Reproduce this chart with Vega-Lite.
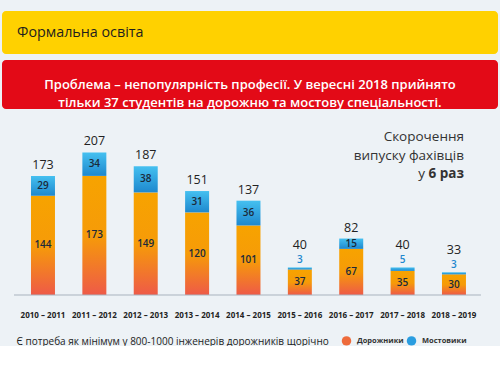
{
  "$schema": "https://vega.github.io/schema/vega-lite/v6.json",
  "background": "#EDF2F6",
  "padding": {"left": 2, "top": 11, "right": 2, "bottom": 0},
  "spacing": 6,
  "config": {
    "view": {"stroke": null},
    "font": "Open Sans",
    "text": {"font": "Open Sans"}
  },
  "datasets": {
    "bars": [
      {"year": "2010 – 2011", "d": 144, "m": 29, "t": 173},
      {"year": "2011 – 2012", "d": 173, "m": 34, "t": 207},
      {"year": "2012 – 2013", "d": 149, "m": 38, "t": 187},
      {"year": "2013 – 2014", "d": 120, "m": 31, "t": 151},
      {"year": "2014 – 2015", "d": 101, "m": 36, "t": 137},
      {"year": "2015 – 2016", "d": 37, "m": 3, "t": 40},
      {"year": "2016 – 2017", "d": 67, "m": 15, "t": 82},
      {"year": "2017 – 2018", "d": 35, "m": 5, "t": 40},
      {"year": "2018 – 2019", "d": 30, "m": 3, "t": 33}
    ],
    "notes": [
      {"year": "2018 – 2019", "v": 229, "label": "Скорочення"},
      {"year": "2018 – 2019", "v": 202, "label": "випуску фахівців"}
    ],
    "notes2": [
      {"year": "2018 – 2019", "v": 176, "a": "у", "b": "6 раз"}
    ]
  },
  "vconcat": [
    {
      "width": 496,
      "height": 43,
      "view": {"fill": "#FFD100", "stroke": null, "cornerRadius": 4},
      "data": {"values": [{"label": "Формальна освіта"}]},
      "mark": {"type": "text", "align": "left", "baseline": "middle", "dx": -233, "fontSize": 14.3, "color": "#1E1E1E"},
      "encoding": {"text": {"field": "label"}}
    },
    {
      "width": 496,
      "height": 49,
      "view": {"fill": "#E30A17", "stroke": null, "cornerRadius": 4},
      "data": {"values": [{"label": ["Проблема – непопулярність професії. У вересні 2018 прийнято", "тільки 37 студентів на дорожню та мостову спеціальності."]}]},
      "mark": {"type": "text", "align": "center", "baseline": "middle", "fontSize": 13, "fontWeight": 600, "lineHeight": 18, "color": "#FFFFFF"},
      "encoding": {"text": {"field": "label"}}
    },
    {
      "width": 496,
      "height": 179,
      "data": {"name": "bars"},
      "encoding": {
        "x": {
          "field": "year", "type": "ordinal", "sort": null,
          "scale": {"paddingInner": 0.533, "paddingOuter": 0.594, "align": 0.475},
          "axis": {
            "domain": false, "ticks": false, "labelAngle": 0, "labelPadding": 16,
            "labelFontSize": 8, "labelFontWeight": "bold", "labelColor": "#222222",
            "title": "Є потреба як мінімум у 800-1000 інженерів дорожників щорічно",
            "titleFontSize": 10, "titleFontWeight": "normal", "titleColor": "#222222",
            "titleAnchor": "start", "titleAlign": "left", "titleX": 14, "titlePadding": 17
          }
        }
      },
      "layer": [
        {
          "mark": {"type": "bar", "color": {"gradient": "linear", "x1": 0, "y1": 0, "x2": 0, "y2": 1,
            "stops": [{"offset": 0, "color": "#F7A300"}, {"offset": 0.5, "color": "#F69B08"}, {"offset": 1, "color": "#EE5A48"}]}},
          "encoding": {
            "y": {"field": "d", "type": "quantitative", "scale": {"domain": [0, 250]}, "axis": null}
          }
        },
        {
          "mark": {"type": "bar", "color": {"gradient": "linear", "x1": 0, "y1": 0, "x2": 0, "y2": 1,
            "stops": [{"offset": 0, "color": "#45C0F0"}, {"offset": 1, "color": "#1E88CE"}]}},
          "encoding": {
            "y": {"field": "t", "type": "quantitative"},
            "y2": {"field": "d"}
          }
        },
        {
          "transform": [{"calculate": "datum.d / 2", "as": "mo"}],
          "mark": {"type": "text", "baseline": "middle", "fontSize": 10, "fontWeight": 600, "color": "#1B2A3A"},
          "encoding": {
            "y": {"field": "mo", "type": "quantitative"},
            "text": {"field": "d"}
          }
        },
        {
          "transform": [{"filter": "datum.m >= 12"}, {"calculate": "datum.d + datum.m / 2", "as": "mb"}],
          "mark": {"type": "text", "baseline": "middle", "fontSize": 10, "fontWeight": 600, "color": "#1B2A3A"},
          "encoding": {
            "y": {"field": "mb", "type": "quantitative"},
            "text": {"field": "m"}
          }
        },
        {
          "transform": [{"filter": "datum.m < 12"}],
          "mark": {"type": "text", "baseline": "bottom", "dy": -2, "fontSize": 10, "fontWeight": 600, "color": "#1E88CE"},
          "encoding": {
            "y": {"field": "t", "type": "quantitative"},
            "text": {"field": "m"}
          }
        },
        {
          "transform": [{"filter": "datum.m >= 12"}],
          "mark": {"type": "text", "baseline": "bottom", "dy": -4, "fontSize": 12.5, "fontWeight": 500, "color": "#222222"},
          "encoding": {
            "y": {"field": "t", "type": "quantitative"},
            "text": {"field": "t"}
          }
        },
        {
          "transform": [{"filter": "datum.m < 12"}],
          "mark": {"type": "text", "baseline": "bottom", "dy": -15, "fontSize": 12.5, "fontWeight": 500, "color": "#222222"},
          "encoding": {
            "y": {"field": "t", "type": "quantitative"},
            "text": {"field": "t"}
          }
        },
        {
          "data": {"values": [{"a": "2010 – 2011", "b": "2018 – 2019", "z": 0}]},
          "mark": {"type": "rule", "color": "#A9B3BE", "strokeWidth": 1, "xOffset": -29, "x2Offset": 27},
          "encoding": {
            "x": {"field": "a", "type": "ordinal"},
            "x2": {"field": "b"},
            "y": {"field": "z", "type": "quantitative"}
          }
        },
        {
          "data": {"name": "notes"},
          "mark": {"type": "text", "align": "right", "baseline": "middle", "dx": 10, "fontSize": 13.5, "color": "#333333"},
          "encoding": {
            "y": {"field": "v", "type": "quantitative"},
            "text": {"field": "label"}
          }
        },
        {
          "data": {"name": "notes2"},
          "mark": {"type": "text", "align": "right", "baseline": "middle", "dx": 10, "fontSize": 13.5, "fontWeight": "bold", "color": "#333333"},
          "encoding": {
            "y": {"field": "v", "type": "quantitative"},
            "text": {"field": "b"}
          }
        },
        {
          "data": {"name": "notes2"},
          "mark": {"type": "text", "align": "right", "baseline": "middle", "dx": -29, "fontSize": 13.5, "color": "#333333"},
          "encoding": {
            "y": {"field": "v", "type": "quantitative"},
            "text": {"field": "a"}
          }
        },
        {
          "mark": {"type": "circle", "opacity": 0},
          "encoding": {
            "y": {"datum": 0, "type": "quantitative"},
            "color": {
              "datum": "Дорожники",
              "scale": {"domain": ["Дорожники", "Мостовики"], "range": ["#EE6B3B", "#2A9DE0"]},
              "legend": {
                "orient": "none", "legendX": 339, "legendY": 324, "direction": "horizontal",
                "title": null, "symbolType": "circle", "symbolSize": 90, "symbolOpacity": 1,
                "labelFontSize": 7.5, "labelFontWeight": "bold", "labelColor": "#333333",
                "labelOffset": 5, "columnPadding": 2
              }
            }
          }
        }
      ]
    }
  ]
}
